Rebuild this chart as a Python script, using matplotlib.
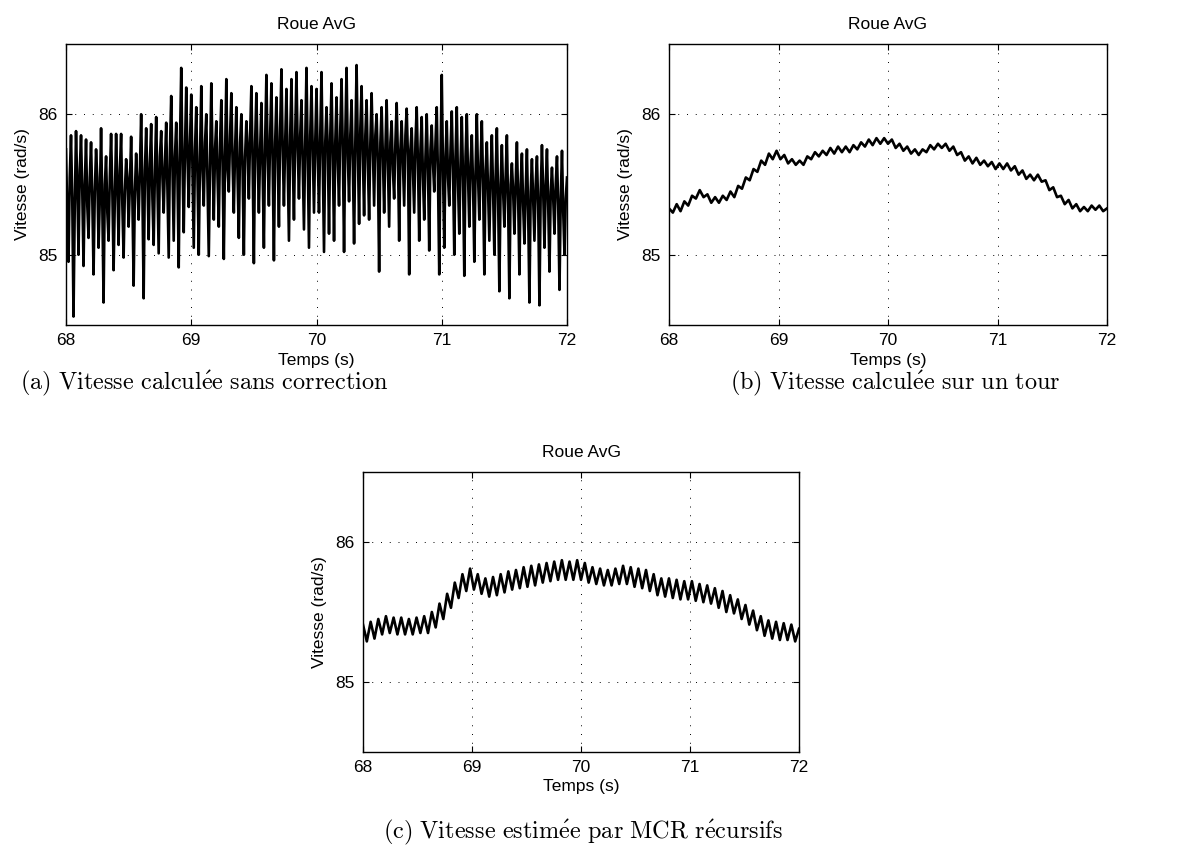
import numpy as np
import matplotlib
matplotlib.use("Agg")
import matplotlib.pyplot as plt

plt.rcParams['font.family'] = ['Liberation Sans', 'DejaVu Sans']
plt.rcParams['mathtext.fontset'] = 'cm'

# ---------------- data ----------------
title = "Roue AvG"
xlabel = "Temps (s)"
ylabel = "Vitesse (rad/s)"
xticks = [68, 69, 70, 71, 72]
yticks = [85, 86]
xlim = (68, 72)
ylim = (84.5, 86.5)

# (a) speed without correction, sampled every 0.01 s from 68 to 72 s
speed_raw = [
    85.75, 85.30, 84.95, 85.55, 85.85, 85.40, 84.56, 85.35, 85.88, 85.50, 85.00, 85.60, 85.85, 85.45, 84.92, 85.50, 85.82, 85.35, 85.12, 85.55,
    85.80, 85.40, 84.86, 85.45, 85.75, 85.55, 85.05, 85.40, 85.90, 85.35, 84.66, 85.50, 85.70, 85.30, 85.10, 85.55, 85.86, 85.45, 84.89, 85.40,
    85.86, 85.50, 85.07, 85.60, 85.86, 85.35, 84.98, 85.45, 85.68, 85.55, 85.20, 85.50, 85.84, 85.40, 84.78, 85.45, 85.72, 85.50, 85.25, 85.60,
    86.00, 85.45, 84.69, 85.60, 85.90, 85.55, 85.11, 85.65, 85.93, 85.40, 85.07, 85.60, 85.98, 85.50, 85.01, 85.70, 85.88, 85.55, 85.30, 85.65,
    85.94, 85.45, 84.98, 85.75, 86.13, 85.60, 85.10, 85.70, 85.94, 85.55, 84.91, 85.80, 86.33, 85.65, 85.16, 85.75, 86.19, 85.70, 85.34, 85.80,
    86.14, 85.60, 85.05, 85.75, 86.05, 85.55, 85.00, 85.70, 86.20, 85.60, 85.35, 85.80, 86.00, 85.50, 84.99, 85.65, 86.22, 85.70, 85.25, 85.75,
    85.95, 85.55, 85.20, 85.80, 86.10, 85.65, 84.97, 85.70, 86.25, 85.60, 85.45, 85.85, 86.15, 85.65, 85.30, 85.75, 86.05, 85.55, 85.12, 85.80,
    86.00, 85.60, 85.00, 85.70, 85.95, 85.75, 85.40, 85.85, 86.20, 85.65, 84.94, 85.80, 86.15, 85.70, 85.30, 85.75, 86.08, 85.60, 85.05, 85.80,
    86.28, 85.70, 85.35, 85.85, 86.22, 85.65, 84.96, 85.80, 86.12, 85.70, 85.20, 85.90, 86.32, 85.75, 85.35, 85.80, 86.18, 85.65, 85.10, 85.85,
    86.25, 85.70, 85.25, 85.85, 86.30, 85.75, 85.40, 85.85, 86.10, 85.65, 85.18, 85.80, 86.33, 85.70, 85.05, 85.85, 86.20, 85.75, 85.30, 85.80,
    86.18, 85.70, 85.30, 85.85, 86.30, 85.65, 85.02, 85.80, 86.05, 85.75, 85.15, 85.85, 86.22, 85.70, 85.10, 85.80, 86.12, 85.65, 85.35, 85.90,
    86.25, 85.75, 85.02, 85.85, 86.33, 85.70, 85.38, 85.85, 86.10, 85.65, 85.08, 85.80, 86.35, 85.75, 85.22, 85.90, 86.20, 85.70, 85.28, 85.85,
    86.10, 85.65, 85.25, 85.80, 86.15, 85.75, 85.35, 85.85, 86.00, 85.65, 84.88, 85.80, 86.05, 85.70, 85.30, 85.75, 86.10, 85.65, 85.20, 85.80,
    85.95, 85.60, 85.40, 85.80, 86.08, 85.70, 85.10, 85.75, 85.95, 85.65, 85.35, 85.85, 86.04, 85.70, 84.86, 85.75, 85.90, 85.60, 85.30, 85.80,
    86.05, 85.65, 85.10, 85.75, 85.98, 85.55, 85.25, 85.70, 86.00, 85.60, 85.03, 85.75, 85.92, 85.65, 85.45, 85.80, 86.05, 85.55, 84.86, 85.70,
    86.28, 85.60, 85.05, 85.70, 85.95, 85.55, 85.35, 85.75, 86.02, 85.60, 85.00, 85.70, 86.05, 85.50, 85.15, 85.65, 85.98, 85.55, 84.85, 85.70,
    86.00, 85.55, 85.20, 85.65, 85.85, 85.50, 84.95, 85.60, 86.00, 85.55, 85.25, 85.65, 85.95, 85.50, 84.86, 85.60, 85.80, 85.45, 85.10, 85.55,
    85.85, 85.45, 85.00, 85.55, 85.90, 85.40, 84.74, 85.50, 85.78, 85.45, 85.20, 85.55, 85.85, 85.35, 84.69, 85.50, 85.65, 85.45, 85.15, 85.50,
    85.80, 85.40, 84.86, 85.50, 85.72, 85.35, 85.08, 85.45, 85.75, 85.30, 84.66, 85.45, 85.68, 85.40, 85.10, 85.50, 85.70, 85.35, 84.64, 85.45,
    85.78, 85.45, 85.05, 85.50, 85.75, 85.35, 84.88, 85.45, 85.62, 85.40, 85.15, 85.50, 85.70, 85.35, 84.75, 85.40, 85.74, 85.30, 85.00, 85.40,
    85.55,
]

# (b) speed computed over one revolution, 115 samples from 68 to 72 s
speed_tour = [
    85.33, 85.30, 85.36, 85.31, 85.38, 85.35, 85.42, 85.40, 85.46, 85.41,
    85.43, 85.37, 85.41, 85.37, 85.42, 85.39, 85.45, 85.41, 85.49, 85.47,
    85.55, 85.53, 85.61, 85.59, 85.67, 85.64, 85.72, 85.68, 85.74, 85.68,
    85.71, 85.65, 85.68, 85.64, 85.67, 85.64, 85.70, 85.68, 85.73, 85.70,
    85.74, 85.71, 85.76, 85.72, 85.77, 85.73, 85.77, 85.73, 85.78, 85.75,
    85.80, 85.77, 85.82, 85.78, 85.83, 85.79, 85.83, 85.79, 85.82, 85.76,
    85.79, 85.74, 85.77, 85.72, 85.75, 85.71, 85.75, 85.73, 85.78, 85.75,
    85.79, 85.76, 85.79, 85.74, 85.77, 85.71, 85.73, 85.67, 85.70, 85.65,
    85.69, 85.64, 85.67, 85.63, 85.66, 85.61, 85.65, 85.61, 85.65, 85.60,
    85.63, 85.57, 85.60, 85.54, 85.57, 85.53, 85.57, 85.52, 85.53, 85.46,
    85.48, 85.41, 85.42, 85.36, 85.39, 85.33, 85.36, 85.31, 85.34, 85.31,
    85.35, 85.32, 85.35, 85.31, 85.33,
]

# (c) speed estimated by recursive least squares, 115 samples from 68 to 72 s
speed_mcr = [
    85.41, 85.29, 85.43, 85.31, 85.45, 85.34, 85.47, 85.35, 85.46, 85.34,
    85.46, 85.34, 85.45, 85.34, 85.46, 85.35, 85.47, 85.35, 85.50, 85.39,
    85.56, 85.45, 85.63, 85.53, 85.71, 85.60, 85.77, 85.65, 85.81, 85.66,
    85.77, 85.63, 85.74, 85.61, 85.75, 85.62, 85.77, 85.64, 85.79, 85.66,
    85.80, 85.67, 85.82, 85.68, 85.83, 85.69, 85.84, 85.71, 85.85, 85.72,
    85.86, 85.73, 85.87, 85.73, 85.86, 85.73, 85.87, 85.73, 85.85, 85.71,
    85.82, 85.70, 85.81, 85.69, 85.80, 85.69, 85.81, 85.70, 85.83, 85.70,
    85.82, 85.68, 85.81, 85.67, 85.80, 85.65, 85.77, 85.62, 85.74, 85.61,
    85.74, 85.60, 85.73, 85.59, 85.72, 85.59, 85.72, 85.58, 85.70, 85.57,
    85.69, 85.56, 85.67, 85.53, 85.65, 85.50, 85.62, 85.49, 85.59, 85.45,
    85.55, 85.41, 85.51, 85.37, 85.47, 85.33, 85.44, 85.31, 85.43, 85.30,
    85.42, 85.30, 85.41, 85.29, 85.38,
]

captions = [
    r'$\mathrm{(a)\ Vitesse\ calcul\acute{e}e\ sans\ correction}$',
    r'$\mathrm{(b)\ Vitesse\ calcul\acute{e}e\ sur\ un\ tour}$',
    r'$\mathrm{(c)\ Vitesse\ estim\acute{e}e\ par\ MCR\ r\acute{e}cursifs}$',
]

W, H = 1197, 851
fig = plt.figure(figsize=(W / 100, H / 100), dpi=100)

def px_axes(x0, y0, x1, y1):
    return fig.add_axes([x0 / W, 1 - y1 / H, (x1 - x0) / W, (y1 - y0) / H])

axes = [px_axes(66, 44, 567, 325), px_axes(669, 44, 1107, 325), px_axes(363, 472, 799, 752)]
series = [speed_raw, speed_tour, speed_mcr]

for ax, y in zip(axes, series):
    t = np.linspace(xlim[0], xlim[1], len(y))
    ax.plot(t, y, color='black', lw=1.9)
    ax.set_xlim(*xlim)
    ax.set_ylim(*ylim)
    ax.set_xticks(xticks)
    ax.set_yticks(yticks)
    ax.set_xticklabels([str(v) for v in xticks])
    ax.set_yticklabels([str(v) for v in yticks])
    ax.grid(True, linestyle=(0, (1, 8)), color='black', lw=0.7)
    ax.tick_params(direction='in', top=True, right=True, length=4, width=0.8,
                   labelsize=12.5, pad=6)
    for s in ax.spines.values():
        s.set_linewidth(1.0)
    ax.set_title(title, fontsize=12.5, pad=11)
    ax.set_xlabel(xlabel, fontsize=12.5, labelpad=3)
    ax.set_ylabel(ylabel, fontsize=12.5, labelpad=6)

fig.text(20 / W, 1 - 383 / H, captions[0], fontsize=17.5, ha='left', va='center')
fig.text(895 / W, 1 - 383 / H, captions[1], fontsize=17.5, ha='center', va='center')
fig.text(583 / W, 1 - 832 / H, captions[2], fontsize=17.5, ha='center', va='center')

fig.savefig('out.png', dpi=100)
